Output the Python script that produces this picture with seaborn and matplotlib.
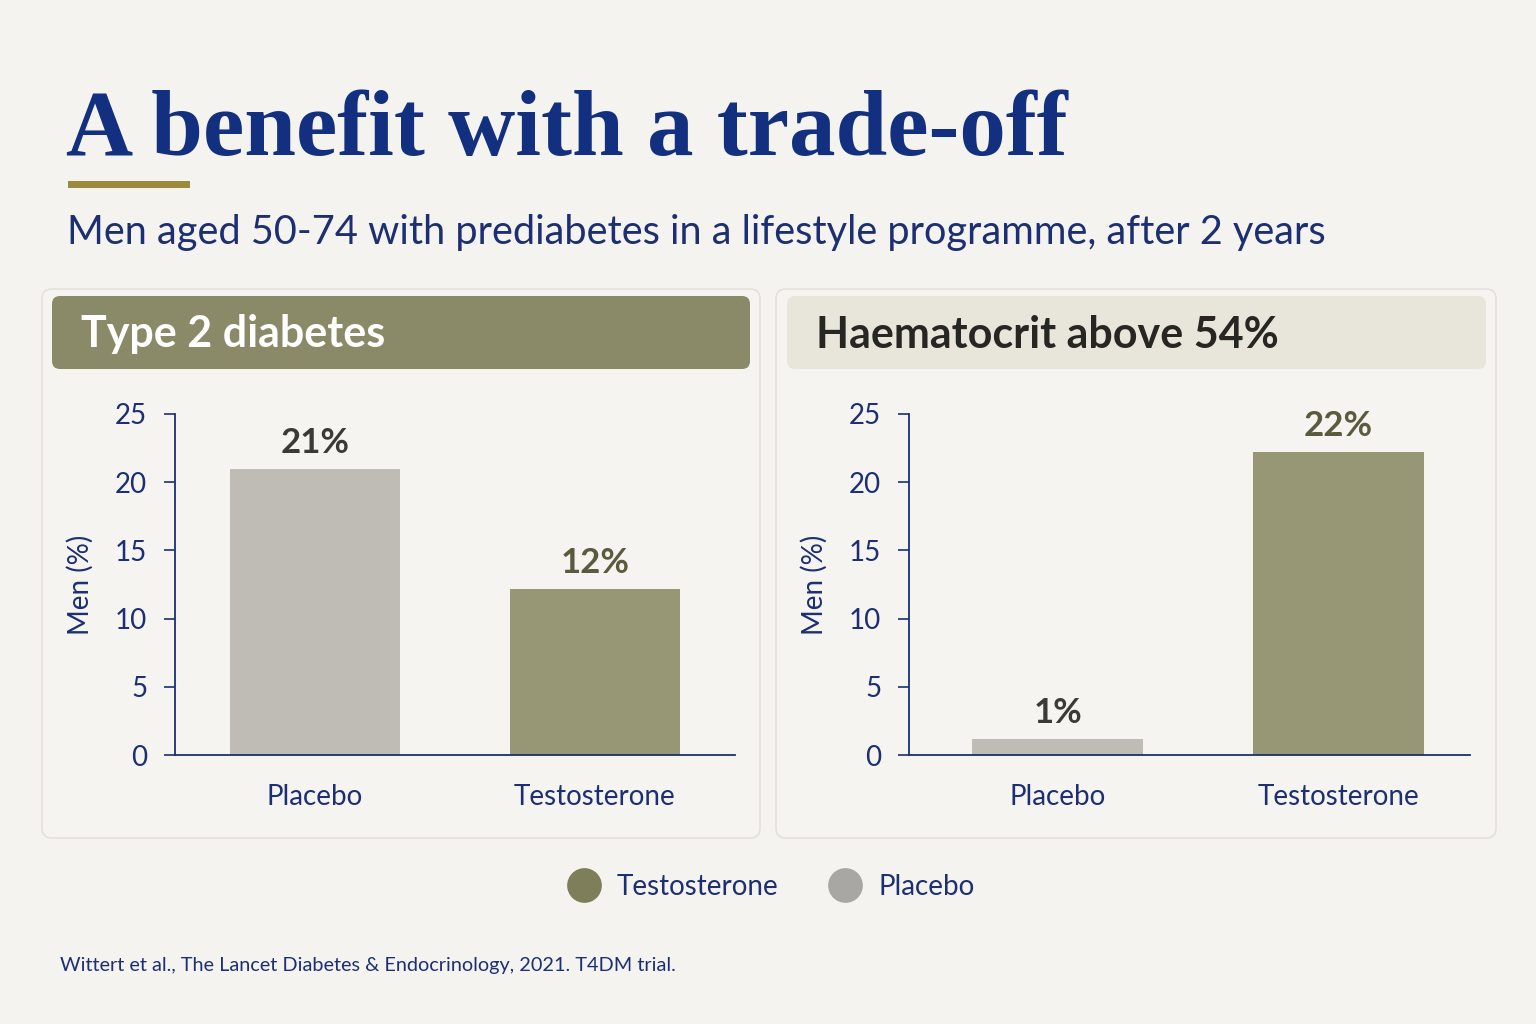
import matplotlib
matplotlib.use("Agg")
import matplotlib.pyplot as plt
import seaborn as sns
from matplotlib.patches import FancyBboxPatch, Rectangle
from matplotlib.lines import Line2D

# data
groups = ["Placebo", "Testosterone"]
diabetes_pct = [21.0, 12.2]
haematocrit_pct = [1.2, 22.2]
diabetes_labels = ["21%", "12%"]
haematocrit_labels = ["1%", "22%"]
panel_titles = ["Type 2 diabetes", "Haematocrit above 54%"]
y_ticks = [0, 5, 10, 15, 20, 25]

BG = "#f5f3ef"
NAVY = "#1b2f72"
TITLE_NAVY = "#12307f"
OLIVE = "#979775"
OLIVE_DARK = "#5a5a3c"
GREY_BAR = "#bfbcb5"
GREY_TXT = "#3b3a35"
bar_colors = {"Placebo": GREY_BAR, "Testosterone": OLIVE}
label_colors = [GREY_TXT, OLIVE_DARK]

sns.set_theme(style="white")
plt.rcParams["font.family"] = ["Lato", "DejaVu Sans"]

W, H = 1536, 1024
fig = plt.figure(figsize=(W / 100, H / 100), dpi=100, facecolor=BG)

# background canvas in pixel coordinates
bg = fig.add_axes([0, 0, 1, 1], zorder=0)
bg.set_xlim(0, W)
bg.set_ylim(H, 0)
bg.axis("off")
bg.set_facecolor(BG)

bg.text(66, 155, "A benefit with a trade-off", fontsize=67, fontweight="bold",
        family=["Liberation Serif", "DejaVu Serif"], color=TITLE_NAVY, va="baseline")
bg.add_patch(Rectangle((68, 181), 122, 7, color="#9c8a3c", lw=0))
bg.text(67, 244, "Men aged 50-74 with prediabetes in a lifestyle programme, after 2 years",
        fontsize=28.6, color=NAVY, va="baseline")

cards = [(42, 289, 718, 549), (776, 289, 720, 549)]
headers = [(52, 296, 698, 73, "#8a8a68", "white"),
           (787, 296, 699, 73, "#e8e5da", "#262622")]
for (x, y, w, h) in cards:
    bg.add_patch(FancyBboxPatch((x, y), w, h, boxstyle="round,pad=0,rounding_size=10",
                                fc="#f6f4f1", ec="#e4e1da", lw=1.2))
for (x, y, w, h, fc, tc), title in zip(headers, panel_titles):
    bg.add_patch(FancyBboxPatch((x, y), w, h, boxstyle="round,pad=0,rounding_size=8",
                                fc=fc, ec="none"))
    bg.text(x + 29, y + h / 2 + 2, title, fontsize=31, fontweight="bold",
            color=tc, va="center")

bg.text(60, 971, "Wittert et al., The Lancet Diabetes & Endocrinology, 2021. T4DM trial.",
        fontsize=14.3, color=NAVY, va="baseline")

# chart panels
ax_boxes = [(175, 414, 560, 341), (909, 414, 561, 341)]
x_limits = [(-0.5, 1.5), (-0.53, 1.47)]
series = [(diabetes_pct, diabetes_labels), (haematocrit_pct, haematocrit_labels)]
for (x, y, w, h), xl, (vals, labels) in zip(ax_boxes, x_limits, series):
    ax = fig.add_axes([x / W, 1 - (y + h) / H, w / W, h / H], zorder=2)
    ax.patch.set_alpha(0)
    sns.barplot(x=groups, y=vals, hue=groups, palette=bar_colors, width=0.61,
                legend=False, ax=ax, saturation=1, linewidth=0)
    ax.set_ylim(0, 25)
    ax.set_xlim(*xl)
    ax.set_yticks(y_ticks)
    for sp in ["top", "right"]:
        ax.spines[sp].set_visible(False)
    for sp in ["left", "bottom"]:
        ax.spines[sp].set_color(NAVY)
        ax.spines[sp].set_linewidth(1.3)
    ax.tick_params(axis="y", colors=NAVY, labelsize=20, length=8, width=1.2, pad=12, left=True)
    ax.tick_params(axis="x", colors=NAVY, labelsize=20, length=0, pad=21)
    ax.set_ylabel("Men (%)", fontsize=20, color=NAVY)
    ax.yaxis.set_label_coords(-0.145, 0.5)
    ax.set_xlabel("")
    for cont, lab, col in zip(ax.containers, labels, label_colors):
        ax.bar_label(cont, labels=[lab], padding=7, fontsize=25,
                     fontweight="bold", color=col)

# legend
handles = [Line2D([], [], marker="o", ls="none", ms=25, mfc="#7e7e5a", mec="none"),
           Line2D([], [], marker="o", ls="none", ms=25, mfc="#a9a7a3", mec="none")]
fig.legend(handles, ["Testosterone", "Placebo"], loc="center", bbox_to_anchor=(0.502, 0.134),
           ncol=2, frameon=False, fontsize=20, labelcolor=NAVY, handletextpad=0.6,
           columnspacing=1.8, handlelength=1.2)

fig.savefig("out.png", dpi=100, facecolor=BG)
